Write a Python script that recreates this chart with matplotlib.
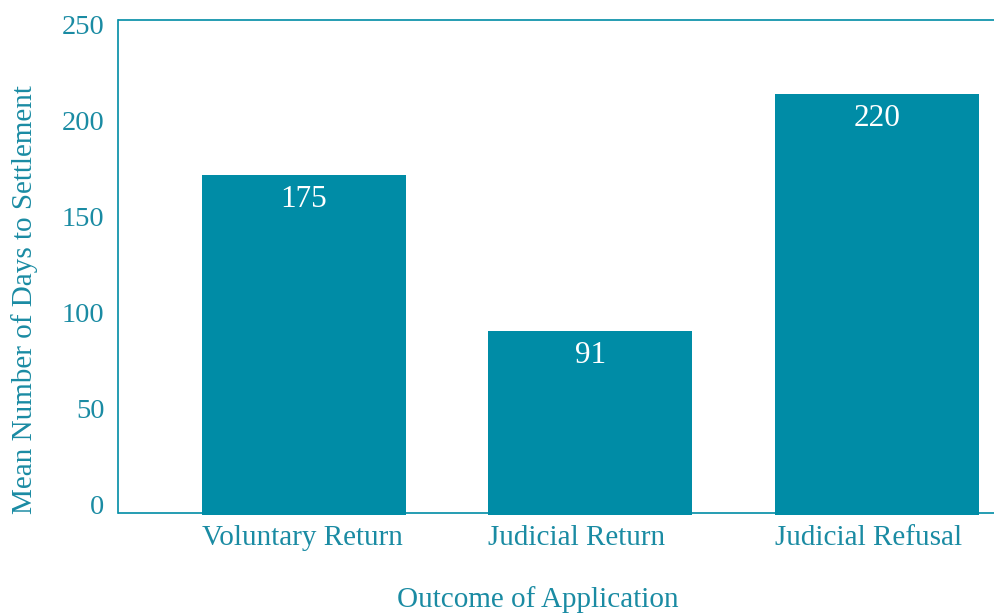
import matplotlib
matplotlib.use("Agg")
import matplotlib.pyplot as plt

categories = ["Voluntary Return", "Judicial Return", "Judicial Refusal"]
bar_values = [171.5, 90.4, 213.6]
bar_labels = ["175", "91", "220"]
y_ticks = [0, 50, 100, 150, 200, 250]

TEAL = "#008CA6"
TEXT = "#1A8BA3"
FONT = "Liberation Serif"

plt.rcParams["font.family"] = [FONT, "DejaVu Serif"]

fig = plt.figure(figsize=(9.95, 6.13), dpi=100)
ax = fig.add_axes([118.5 / 995, 100 / 613, 1 - 118.5 / 995, 493.5 / 613])

x = [0, 1, 2]
width = 0.712
base = -5.2
ax.bar(x, [v - base for v in bar_values], bottom=base, width=width,
       color=TEAL, clip_on=False, zorder=3)

ax.set_xlim(-0.647, 2.412)
ax.set_ylim(-4.16, 252.34)

for xi, v, lab in zip(x, bar_values, bar_labels):
    ax.annotate(lab, xy=(xi, v), xytext=(0, -17.5), textcoords="offset points",
                ha="center", va="center", color="white", fontsize=22.5)

ax.set_yticks(y_ticks)
ax.set_yticklabels([str(t) for t in y_ticks])
ax.set_xticks([xi - width / 2 for xi in x])
ax.set_xticklabels(categories, ha="left")
ax.tick_params(axis="y", length=0, pad=10, labelsize=20.5, labelcolor=TEXT)
ax.tick_params(axis="x", length=0, pad=8.5, labelsize=21, labelcolor=TEXT)

for s in ["left", "top", "bottom"]:
    ax.spines[s].set_color(TEAL)
    ax.spines[s].set_linewidth(1.2)
ax.spines["right"].set_visible(False)

fig.text(25 / 995, 1 - 300 / 613, "Mean Number of Days to Settlement",
         rotation=90, ha="center", va="center", color=TEXT, fontsize=21)
fig.text(538 / 995, 1 - 600 / 613, "Outcome of Application",
         ha="center", va="center", color=TEXT, fontsize=21)

fig.savefig("out.png", dpi=100)
